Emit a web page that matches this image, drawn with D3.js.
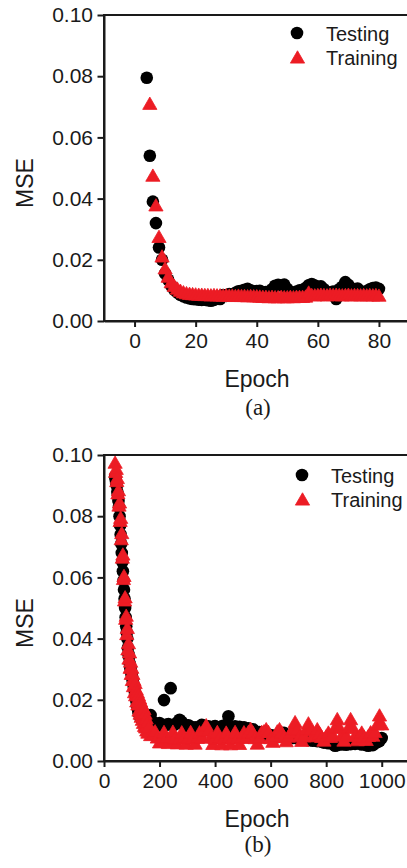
<!DOCTYPE html>
<html>
<head>
<meta charset="utf-8">
<script src="https://cdn.jsdelivr.net/npm/d3@7"></script>
<style>
  body { margin: 0; background: #fff; }
  svg { display: block; }
</style>
</head>
<body>
<script>
// ---- panel (a): 80 epochs ----
const epochsTestA = d3.range(4, 81);
const mseTestA = [
  0.0795, 0.054, 0.039, 0.032, 0.024, 0.020, 0.0155, 0.0135, 0.0115, 0.0102,
  0.0093, 0.0086, 0.0081, 0.0077, 0.0074, 0.0072, 0.0071, 0.0070, 0.0069, 0.0070,
  0.0068, 0.0066, 0.0069, 0.0078, 0.0072, 0.0085, 0.0082, 0.0088, 0.0086, 0.0092,
  0.0097, 0.0099, 0.0102, 0.0105, 0.0100, 0.0096, 0.0098, 0.0099, 0.0094, 0.0095,
  0.0090, 0.0104, 0.0115, 0.0118, 0.0116, 0.0119, 0.0105, 0.0095, 0.0092, 0.0096,
  0.0100, 0.0101, 0.0108, 0.0117, 0.0121, 0.0116, 0.0112, 0.0113, 0.0104, 0.0095,
  0.0092, 0.0096, 0.0072, 0.0104, 0.0112, 0.0127, 0.0118, 0.0102, 0.0104, 0.0106,
  0.0097, 0.0092, 0.0098, 0.0104, 0.0108, 0.0109, 0.0105
];
const epochsTrainA = d3.range(5, 81);
const mseTrainA = [
  0.0705, 0.047, 0.0373, 0.027, 0.0206, 0.0167, 0.0140, 0.0122, 0.0110, 0.0101,
  0.0094, 0.0089, 0.0086, 0.0084, 0.0083, 0.0082, 0.0081, 0.0081, 0.0080, 0.0080,
  0.0079, 0.0080, 0.0079, 0.0079, 0.0078, 0.0079, 0.0078, 0.0078, 0.0077, 0.0078,
  0.0077, 0.0077, 0.0076, 0.0077, 0.0076, 0.0076, 0.0075, 0.0074, 0.0074, 0.0073,
  0.0074, 0.0073, 0.0073, 0.0074, 0.0073, 0.0073, 0.0074, 0.0073, 0.0074, 0.0074,
  0.0074, 0.0075, 0.0088, 0.0080, 0.0079, 0.0080, 0.0081, 0.0080, 0.0079, 0.0081,
  0.0080, 0.0081, 0.0080, 0.0079, 0.0080, 0.0081, 0.0079, 0.0080, 0.0080, 0.0079,
  0.0080, 0.0079, 0.0080, 0.0079, 0.0080, 0.0078
];

// ---- panel (b): 1000 epochs (sampled: every 2 epochs on the drop, every 8 after) ----
const epochsB = d3.range(40, 161, 2).concat(d3.range(168, 1001, 8));
const mseTestB = [
  // drop, 40..160
  0.093, 0.092, 0.091, 0.090, 0.088, 0.087, 0.085, 0.083, 0.080, 0.077,
  0.074, 0.071, 0.068, 0.065, 0.062, 0.059, 0.056, 0.053, 0.050, 0.047,
  0.044, 0.042, 0.040, 0.037, 0.035, 0.034, 0.032, 0.031, 0.030, 0.029,
  0.028, 0.027, 0.026, 0.025, 0.024, 0.023, 0.022, 0.021, 0.020, 0.019,
  0.018, 0.017, 0.016, 0.0155, 0.015, 0.0145, 0.014, 0.014, 0.0138, 0.0138,
  0.0138, 0.014, 0.0135, 0.014, 0.0142, 0.0138, 0.0145, 0.014, 0.0148, 0.0142,
  0.015,
  // plateau, 168..1000
  0.0150, 0.0128, 0.0122, 0.0118, 0.0124, 0.0115, 0.0199, 0.0118, 0.0121, 0.0238,
  0.0116, 0.0120, 0.0126, 0.0135, 0.0128, 0.0119, 0.0114, 0.0117, 0.0112, 0.0106,
  0.0110, 0.0105, 0.0112, 0.0118, 0.0115, 0.0109, 0.0113, 0.0108, 0.0112, 0.0114,
  0.0110, 0.0104, 0.0113, 0.0116, 0.0112, 0.0146, 0.0110, 0.0107, 0.0113, 0.0109,
  0.0112, 0.0106, 0.0110, 0.0104, 0.0107, 0.0101, 0.0104, 0.0098, 0.0093, 0.0095,
  0.0089, 0.0086, 0.0088, 0.0082, 0.0085, 0.0080, 0.0083, 0.0078, 0.0082, 0.0088,
  0.0092, 0.0080, 0.0077, 0.0079, 0.0075, 0.0078, 0.0074, 0.0076, 0.0072, 0.0075,
  0.0071, 0.0068, 0.0072, 0.0066, 0.0069, 0.0065, 0.0067, 0.0063, 0.0060, 0.0062,
  0.0058, 0.0061, 0.0055, 0.0050, 0.0052, 0.0056, 0.0054, 0.0057, 0.0053, 0.0058,
  0.0055, 0.0059, 0.0056, 0.0060, 0.0057, 0.0054, 0.0058, 0.0052, 0.0050, 0.0055,
  0.0052, 0.0058, 0.0062, 0.0065, 0.0075
];
const mseTrainB = [
  // drop, 40..160
  0.097, 0.094, 0.095, 0.091, 0.092, 0.087, 0.088, 0.083, 0.084, 0.078,
  0.079, 0.072, 0.074, 0.066, 0.067, 0.059, 0.060, 0.052, 0.053, 0.046,
  0.047, 0.041, 0.043, 0.036, 0.038, 0.033, 0.035, 0.030, 0.032, 0.028,
  0.030, 0.026, 0.028, 0.024, 0.026, 0.022, 0.025, 0.021, 0.023, 0.019,
  0.022, 0.018, 0.021, 0.016, 0.020, 0.015, 0.019, 0.014, 0.018, 0.013,
  0.017, 0.012, 0.0165, 0.011, 0.015, 0.0105, 0.0135, 0.0095, 0.012, 0.0088,
  0.0105,
  // plateau, 168..1000
  0.0080, 0.0082, 0.0092, 0.0072, 0.0056, 0.0072, 0.0090, 0.0071, 0.0054, 0.0071,
  0.0091, 0.0070, 0.0053, 0.0070, 0.0089, 0.0071, 0.0052, 0.0072, 0.0090, 0.0070,
  0.0052, 0.0071, 0.0089, 0.0072, 0.0095, 0.0112, 0.0094, 0.0072, 0.0051, 0.0070,
  0.0090, 0.0071, 0.0050, 0.0070, 0.0088, 0.0071, 0.0050, 0.0072, 0.0090, 0.0070,
  0.0051, 0.0071, 0.0089, 0.0072, 0.0090, 0.0100, 0.0088, 0.0070, 0.0052, 0.0071,
  0.0090, 0.0092, 0.0099, 0.0090, 0.0070, 0.0058, 0.0074, 0.0092, 0.0099, 0.0088,
  0.0074, 0.0060, 0.0075, 0.0088, 0.0098, 0.0122, 0.0098, 0.0076, 0.0061, 0.0076,
  0.0098, 0.0118, 0.0097, 0.0076, 0.0078, 0.0099, 0.0086, 0.0074, 0.0062, 0.0076,
  0.0088, 0.0074, 0.0080, 0.0104, 0.0132, 0.0104, 0.0078, 0.0062, 0.0078, 0.0104,
  0.0132, 0.0104, 0.0078, 0.0063, 0.0077, 0.0088, 0.0075, 0.0064, 0.0077, 0.0089,
  0.0078, 0.0090, 0.0115, 0.0144, 0.0115
];

const yTicks = [0, 0.02, 0.04, 0.06, 0.08, 0.10];
const xTicksA = [0, 20, 40, 60, 80];
const xTicksB = [0, 200, 400, 600, 800, 1000];
const seriesNames = ["Testing", "Training"];

const RED = "#ec1c24";
const INK = "#1a1a1a";
const SANS = "Liberation Sans, Arial, sans-serif";

const svg = d3.select("body").append("svg")
  .attr("width", 407)
  .attr("height", 868);

const tri = d3.symbol().type(d3.symbolTriangle).size(88);

function drawPanel(p) {
  const g = svg.append("g");
  const x = d3.scaleLinear().domain(p.xDomain).range([104, 409.5]);
  const y = d3.scaleLinear().domain([0, 0.10]).range([p.top + 306, p.top]);

  g.append("clipPath").attr("id", p.id + "clip")
    .append("rect")
    .attr("x", 104).attr("y", p.top - 1)
    .attr("width", 306).attr("height", 307);

  const pts = g.append("g").attr("clip-path", "url(#" + p.id + "clip)");
  pts.selectAll("circle")
    .data(d3.zip(p.testX, p.testY))
    .join("circle")
    .attr("cx", d => x(d[0]))
    .attr("cy", d => y(d[1]))
    .attr("r", 6.3)
    .attr("fill", "#000");
  // small stroke fills the hairline seams between packed triangles
  pts.selectAll("path")
    .data(d3.zip(p.trainX, p.trainY))
    .join("path")
    .attr("d", tri)
    .attr("transform", d => `translate(${x(d[0])},${y(d[1])})`)
    .attr("fill", RED)
    .attr("stroke", RED)
    .attr("stroke-width", 0.8)
    .attr("stroke-linejoin", "round");

  // frame (top and right edges)
  g.append("rect")
    .attr("x", 104).attr("y", p.top)
    .attr("width", 305.5).attr("height", 306)
    .attr("fill", "none").attr("stroke", INK).attr("stroke-width", 2);

  const ya = g.append("g")
    .attr("transform", "translate(104,0)")
    .call(d3.axisLeft(y).tickValues(yTicks).tickFormat(d3.format(".2f"))
      .tickSize(6.5).tickSizeOuter(0).tickPadding(4.5));
  const xa = g.append("g")
    .attr("transform", `translate(0,${p.top + 306})`)
    .call(d3.axisBottom(x).tickValues(p.xTicks).tickFormat(d3.format("d"))
      .tickSize(6).tickSizeOuter(0).tickPadding(5.6));
  [ya, xa].forEach(a => {
    a.select(".domain").attr("stroke", INK).attr("stroke-width", 2);
    a.selectAll(".tick line").attr("stroke", INK).attr("stroke-width", 2);
    a.selectAll(".tick text")
      .attr("fill", INK)
      .style("font-family", SANS)
      .style("font-size", "21px");
  });

  g.append("text")
    .attr("transform", `translate(33,${p.top + 168}) rotate(-90)`)
    .attr("text-anchor", "middle")
    .style("font-family", SANS).style("font-size", "23px")
    .attr("fill", INK)
    .text("MSE");

  g.append("text")
    .attr("x", 257).attr("y", p.top + 306 + 66.3)
    .attr("text-anchor", "middle")
    .style("font-family", SANS).style("font-size", "23px")
    .attr("fill", INK)
    .text("Epoch");

  g.append("text")
    .attr("x", 258).attr("y", p.top + 306 + p.capGap)
    .attr("text-anchor", "middle")
    .style("font-family", "Liberation Serif, Times New Roman, serif")
    .style("font-size", "23px")
    .attr("fill", INK)
    .text(p.caption);

  // legend
  const lg = g.append("g");
  lg.append("circle")
    .attr("cx", p.legX).attr("cy", p.top + p.legY)
    .attr("r", 6.3).attr("fill", "#000");
  lg.append("path")
    .attr("d", tri)
    .attr("transform", `translate(${p.legX + 0.5},${p.top + p.legY + 26})`)
    .attr("fill", RED)
    .attr("stroke", RED)
    .attr("stroke-width", 0.8)
    .attr("stroke-linejoin", "round");
  lg.selectAll("text")
    .data(seriesNames)
    .join("text")
    .attr("x", p.legX + 29)
    .attr("y", (d, i) => p.top + p.legY + 7.5 + i * 24.5)
    .style("font-family", SANS).style("font-size", "20px")
    .attr("fill", INK)
    .text(d => d);
}

drawPanel({
  id: "a", top: 15, xDomain: [-10, 90], xTicks: xTicksA,
  testX: epochsTestA, testY: mseTestA,
  trainX: epochsTrainA, trainY: mseTrainA,
  legX: 297, legY: 18, caption: "(a)", capGap: 94
});
drawPanel({
  id: "b", top: 455, xDomain: [0, 1100], xTicks: xTicksB,
  testX: epochsB, testY: mseTestB,
  trainX: epochsB, trainY: mseTrainB,
  legX: 302, legY: 20, caption: "(b)", capGap: 91
});
</script>
</body>
</html>
